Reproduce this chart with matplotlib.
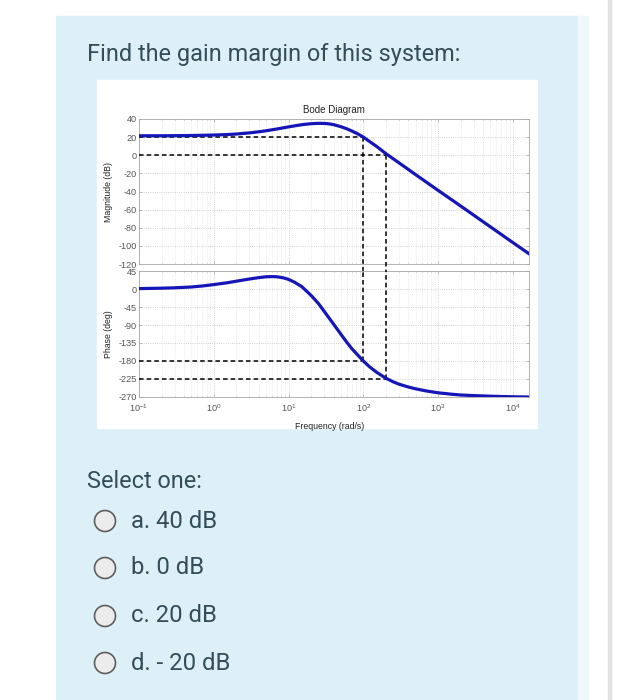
import matplotlib
matplotlib.use("Agg")
import matplotlib.pyplot as plt
from matplotlib.patches import Rectangle, Circle

plt.rcParams["axes.unicode_minus"] = False

# values
freq_mag = [0.1, 0.2, 0.3, 0.5, 0.7, 1, 1.5, 2, 3, 4, 5, 7, 10, 13, 16, 20,
            25, 30, 35, 40, 50, 60, 70, 85, 100, 120, 150, 200, 300, 500,
            1000, 2000, 5000, 10000, 16400]
mag_db = [21.5, 21.5, 21.6, 21.8, 22.0, 22.3, 22.8, 23.4, 24.7, 25.9, 27.0,
          29.0, 31.3, 32.9, 34.0, 34.8, 35.2, 35.1, 34.6, 33.8, 31.5, 29.2,
          26.8, 23.4, 20.0, 15.4, 9.8, 1.8, -8.4, -21.4, -38.8, -56, -79,
          -96.4, -108.7]

freq_ph = [0.1, 0.2, 0.3, 0.5, 0.7, 1, 1.5, 2, 3, 4, 5, 6, 7, 8.5, 10, 12,
           15, 20, 25, 30, 40, 50, 60, 70, 85, 100, 120, 150, 200, 250, 300,
           400, 500, 700, 1000, 1500, 2000, 3000, 5000, 10000, 16400]
phase_deg = [1, 2, 3, 5, 7.5, 11, 15.5, 19.5, 25, 28.5, 30.5, 31, 30.5, 28,
             24, 17, 6, -16, -36, -56, -88, -113, -133, -149, -166, -180,
             -194, -208, -223, -232, -238, -245, -249.5, -255, -259.5, -263,
             -265, -266.5, -268, -269.5, -270]

w_pc = 100      # phase crossover
w_gc = 200      # gain crossover
mag_at_pc = 20
ph_at_gc = -225

mag_ticks = [40, 20, 0, -20, -40, -60, -80, -100, -120]
ph_ticks = [45, 0, -45, -90, -135, -180, -225, -270]

question = "Find the gain margin of this system:"
prompt = "Select one:"
options = ["a. 40 dB", "b. 0 dB", "c. 20 dB", "d. - 20 dB"]

W, H = 636, 700
fig = plt.figure(figsize=(W / 100, H / 100), dpi=100)
fig.patch.set_facecolor("white")


def box(x1, y1, x2, y2):
    return [x1 / W, 1 - y2 / H, (x2 - x1) / W, (y2 - y1) / H]


bg = fig.add_axes([0, 0, 1, 1])
bg.set_xlim(0, W)
bg.set_ylim(H, 0)
bg.axis("off")

bg.add_patch(Rectangle((56, 16), 522, 700, color="#ddf0f8", zorder=0))
bg.add_patch(Rectangle((578, 16), 10, 700, color="#f1f8fb", zorder=0))
bg.add_patch(Rectangle((608, 0), 3, H, color="#e2e2e2", zorder=0))
bg.add_patch(Rectangle((97, 80), 440, 348, color="white", zorder=1))

txt_col = "#334e59"
bg.text(87, 54, question, fontsize=16.9, family="Roboto", color=txt_col,
        va="center", ha="left")
bg.text(87, 481, prompt, fontsize=16.9, family="Roboto", color=txt_col,
        va="center", ha="left")
opt_y = [521, 568, 616, 663]
for lab, y in zip(options, opt_y):
    bg.add_patch(Circle((105, y), 10.5, facecolor="#ececec",
                        edgecolor="#5e5e5e", lw=1.2, zorder=2))
    bg.text(131, y, lab, fontsize=17.2, family="Roboto", color=txt_col,
            va="center", ha="left")

blue = "#1616b8"
grid_col = "#c4c4c4"
tick_col = "#555555"
xlim = (0.1, 16400)


def style(ax):
    ax.set_xscale("log")
    ax.set_xlim(*xlim)
    ax.grid(True, which="major", ls=":", color=grid_col, lw=0.6)
    ax.grid(True, which="minor", ls=":", color="#dcdcdc", lw=0.5)
    for s in ax.spines.values():
        s.set_color("#a8a8a8")
        s.set_linewidth(0.6)
    ax.tick_params(which="both", direction="in", colors="#a8a8a8",
                   labelcolor=tick_col, labelsize=6.6, length=2, width=0.5,
                   pad=1.5, top=True, right=True)
    ax.tick_params(which="minor", length=1)
    for t in ax.get_xticklabels() + ax.get_yticklabels():
        t.set_family("Liberation Sans")


dash = dict(color="black", lw=1.1, ls=(0, (3, 2)), zorder=3)

ax1 = fig.add_axes(box(139, 119, 529, 264))
ax1.semilogx(freq_mag, mag_db, color=blue, lw=2.3, zorder=4)
ax1.set_ylim(-120, 40)
ax1.set_yticks(mag_ticks)
ax1.plot([xlim[0], w_pc], [mag_at_pc, mag_at_pc], **dash)
ax1.plot([xlim[0], w_gc], [0, 0], **dash)
ax1.plot([w_pc, w_pc], [mag_at_pc, -128], clip_on=False, **dash)
ax1.plot([w_gc, w_gc], [0, -128], clip_on=False, **dash)
style(ax1)
ax1.set_xticklabels([])
ax1.set_xticklabels([], minor=True)
ax1.set_ylabel("Magnitude (dB)", fontsize=6.3, family="Liberation Sans",
               color="#222222", labelpad=4)
ax1.set_title("Bode Diagram", fontsize=7, family="Liberation Sans",
              color="#222222", pad=4)

ax2 = fig.add_axes(box(139, 271, 529, 397))
ax2.semilogx(freq_ph, phase_deg, color=blue, lw=2.3, zorder=4)
ax2.set_ylim(-270, 45)
ax2.set_yticks(ph_ticks)
ax2.plot([xlim[0], w_pc], [-180, -180], **dash)
ax2.plot([xlim[0], w_gc], [ph_at_gc, ph_at_gc], **dash)
ax2.plot([w_pc, w_pc], [-180, 45], **dash)
ax2.plot([w_gc, w_gc], [ph_at_gc, 45], **dash)
style(ax2)
ax2.set_xticks([0.1, 1, 10, 100, 1000, 10000])
ax2.tick_params(axis="x", pad=4)
ax2.set_ylabel("Phase (deg)", fontsize=6.3, family="Liberation Sans",
               color="#222222", labelpad=4)
ax2.set_xlabel("Frequency (rad/s)", fontsize=6.3, family="Liberation Sans",
               color="#222222", labelpad=3)
ax2.xaxis.set_label_coords(0.49, -0.2)
for t in ax2.get_xticklabels():
    t.set_family("Liberation Sans")

fig.savefig("out.png", dpi=100)
